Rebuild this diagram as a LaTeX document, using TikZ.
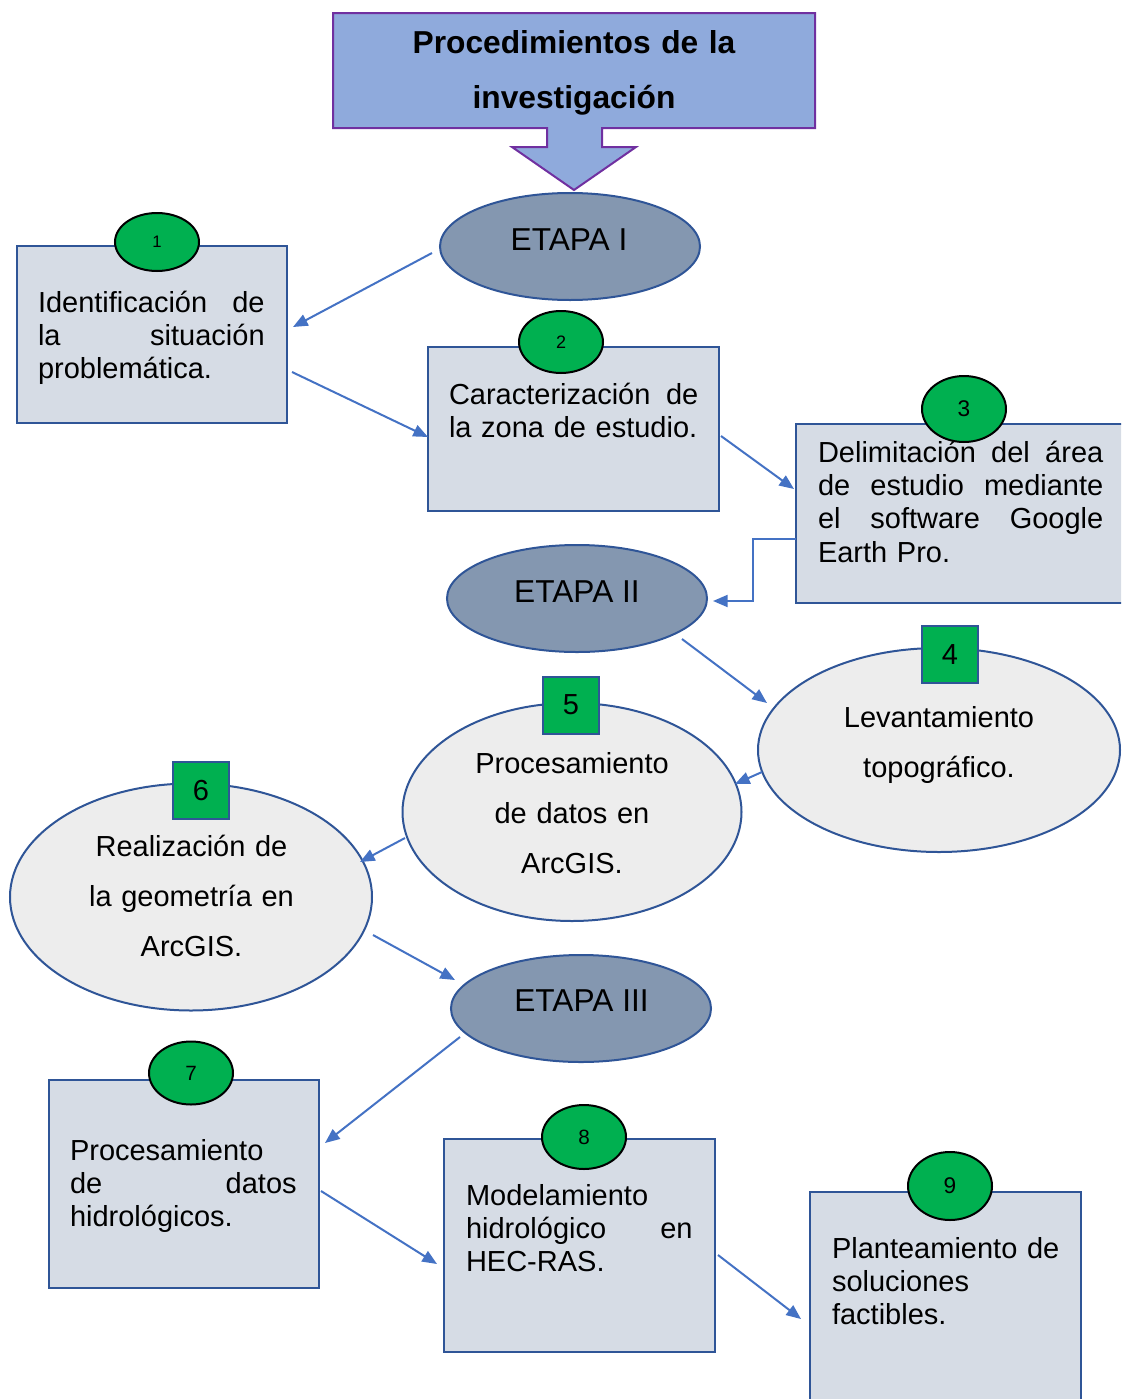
\documentclass[tikz,border=0pt]{standalone}
\usepackage{fontspec}
\setmainfont{Liberation Sans}
\usetikzlibrary{shapes.geometric,arrows.meta,calc}
\definecolor{titlefill}{HTML}{8FAADC}
\definecolor{titleborder}{HTML}{7030A0}
\definecolor{etapafill}{HTML}{8497B0}
\definecolor{darkblue}{HTML}{2F5597}
\definecolor{boxfill}{HTML}{D6DCE5}
\definecolor{ellfill}{HTML}{EDEDED}
\definecolor{badgegreen}{HTML}{00B050}
\definecolor{arrowblue}{HTML}{4472C4}
\begin{document}
\begin{tikzpicture}[x=0.75pt,y=-0.75pt,
  every node/.style={inner sep=0pt, outer sep=0pt},
  box/.style={draw=darkblue, fill=boxfill, line width=1.5pt, anchor=north west},
  etapa/.style={ellipse, draw=darkblue, fill=etapafill, line width=1.5pt, minimum width=195pt, minimum height=80.25pt},
  oval/.style={ellipse, draw=darkblue, fill=ellfill, line width=1.5pt},
  badge/.style={ellipse, draw=black, fill=badgegreen, line width=1.5pt, minimum width=63pt},
  sqbadge/.style={draw=darkblue, fill=badgegreen, line width=1.5pt, minimum width=42pt, minimum height=42.75pt, font=\fontsize{21.75pt}{26pt}\selectfont},
  body/.style={font=\fontsize{21.75pt}{25.1pt}\selectfont, align=left, anchor=base west},
  ovaltext/.style={font=\fontsize{21.75pt}{37.6pt}\selectfont, align=center, text width=200pt, anchor=base},
  etapatext/.style={font=\fontsize{23.75pt}{28pt}\selectfont, anchor=base},
  arr/.style={draw=arrowblue, line width=1.5pt, -{Triangle[length=11pt,width=9pt]}},
]
\path[use as bounding box] (0,0) rectangle (1121,1399);
\clip (0,0) rectangle (1121,1399);

% title callout
\filldraw[fill=titlefill, draw=titleborder, line width=1.5pt]
  (333,13) -- (815,13) -- (815,128) -- (602,128) -- (602,147) -- (636,147)
  -- (574,190) -- (512,147) -- (547,147) -- (547,128) -- (333,128) -- cycle;
\node[font=\bfseries\fontsize{23.8pt}{41.25pt}\selectfont, align=center, text width=340pt, anchor=base] (title) at (574,53) {Procedimientos de la\\investigación};

% ETAPA ellipses
\node[etapa] (e1) at (570,246.5) {};
\node[etapatext] (e1t) at (569,250) {ETAPA I};
\node[etapa] (e2) at (577,598.5) {};
\node[etapatext] (e2t) at (577,602) {ETAPA II};
\node[etapa] (e3) at (581,1008.5) {};
\node[etapatext] (e3t) at (581.5,1011) {ETAPA III};

% boxes
\node[box, minimum width=202.5pt, minimum height=132.75pt] (b1) at (17,246) {};
\node[box, minimum width=218.25pt, minimum height=123pt] (b2) at (428,347) {};
\node[box, minimum width=246pt, minimum height=134.25pt] (b3) at (796,424) {};
\node[box, minimum width=202.5pt, minimum height=156pt] (b7) at (49,1080) {};
\node[box, minimum width=203.25pt, minimum height=159.75pt] (b8) at (444,1139) {};
\node[box, minimum width=203.25pt, minimum height=163.5pt] (b9) at (810,1192) {};

\node[body, text width=170pt] (t1) at (38,312) {Identificación\hfill de\\la\hfill situación\\problemática.};
\node[body, text width=187pt] (t2) at (449,404) {Caracterización\hfill de\\la zona de estudio.};
\node[body, text width=214pt] (t3) at (818,462) {Delimitación\hfill del\hfill área\\de\hfill estudio\hfill mediante\\el\hfill software\hfill Google\\Earth Pro.};
\node[body, text width=170pt] (t7) at (70,1160) {Procesamiento\\de\hfill datos\\hidrológicos.};
\node[body, text width=170pt] (t8) at (466,1205) {Modelamiento\\hidrológico\hfill en\\HEC-RAS.};
\node[body, text width=185pt] (t9) at (832,1258) {Planteamiento de\\soluciones\\factibles.};

% circle badges
\node[badge, minimum height=43.5pt, font=\fontsize{12.5pt}{14pt}\selectfont] (n1) at (157,242) {1};
\node[badge, minimum height=46.5pt, font=\fontsize{13.5pt}{15pt}\selectfont] (n2) at (561,342) {2};
\node[badge, minimum height=49.5pt, font=\fontsize{17pt}{19pt}\selectfont] (n3) at (964,409) {3};
\node[badge, minimum height=47.25pt, font=\fontsize{15.5pt}{17pt}\selectfont] (n7) at (191,1073) {7};
\node[badge, minimum height=48pt, font=\fontsize{15.5pt}{17pt}\selectfont] (n8) at (584,1137) {8};
\node[badge, minimum height=51pt, font=\fontsize{17pt}{19pt}\selectfont] (n9) at (950,1186) {9};

% light ellipses
\node[oval, minimum width=271.5pt, minimum height=153pt] (o4) at (939,750) {};
\node[oval, minimum width=254.25pt, minimum height=163.5pt] (o5) at (572,812) {};
\node[oval, minimum width=271.5pt, minimum height=170.25pt] (o6) at (191,897) {};
\node[ovaltext] (o4t) at (939,727) {Levantamiento\\topográfico.};
\node[ovaltext] (o5t) at (572,773) {Procesamiento\\de datos en\\ArcGIS.};
\node[ovaltext] (o6t) at (191.5,856) {Realización de\\la geometría en\\ArcGIS.};
\node[sqbadge] (s4) at (950,654.5) {4};
\node[sqbadge] (s5) at (571,705) {5};
\node[sqbadge] (s6) at (201,790.5) {6};

% connector end points
\coordinate (a1s) at (432,253);  \coordinate (a1e) at (293,327);
\coordinate (a2s) at (292,372);  \coordinate (a2e) at (428,437);
\coordinate (a3s) at (721,436);  \coordinate (a3e) at (794,489);
\coordinate (a4s) at (796,539);  \coordinate (a4e) at (713,601);
\coordinate (a5s) at (682,639);  \coordinate (a5e) at (767,703);
\coordinate (a6s) at (762,772);  \coordinate (a6e) at (735,784);
\coordinate (a7s) at (405,838);  \coordinate (a7e) at (360,862);
\coordinate (a8s) at (373,935);  \coordinate (a8e) at (455,980);
\coordinate (a9s) at (460,1037); \coordinate (a9e) at (325,1143);
\coordinate (a10s) at (321,1191); \coordinate (a10e) at (437,1264);
\coordinate (a11s) at (718,1255); \coordinate (a11e) at (801,1319);

\draw[arr] (a1s) -- (a1e);
\draw[arr] (a2s) -- (a2e);
\draw[arr] (a3s) -- (a3e);
\draw[arr] (a4s) -- ++(-43,0) |- (a4e);
\draw[arr] (a5s) -- (a5e);
\draw[arr] (a6s) -- (a6e);
\draw[arr] (a7s) -- (a7e);
\draw[arr] (a8s) -- (a8e);
\draw[arr] (a9s) -- (a9e);
\draw[arr] (a10s) -- (a10e);
\draw[arr] (a11s) -- (a11e);
\end{tikzpicture}
\end{document}
